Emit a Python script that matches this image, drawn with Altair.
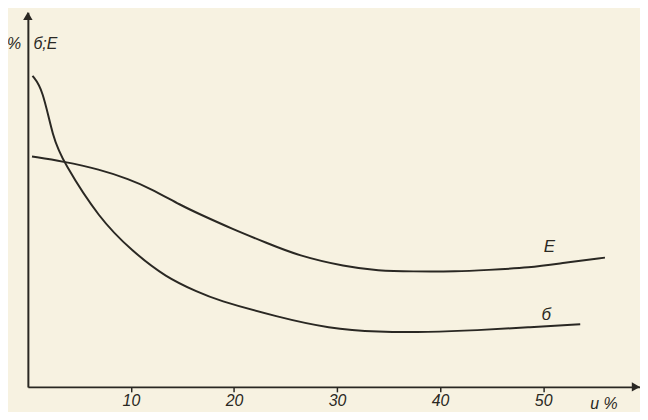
import altair as alt
import pandas as pd

# Curve "б" (strength) vs moisture u %
u_sigma = [0.45, 1.42, 2.44, 3.41, 6.95, 10.1, 13.4, 16.6, 18.2, 24.3, 29.2, 34.0, 38.8, 43.6, 48.5, 53.6]
v_sigma = [83.0, 79.7, 66.4, 60.2, 44.8, 36.3, 29.2, 25.2, 23.3, 18.6, 15.6, 14.6, 14.6, 15.1, 15.9, 16.7]

# Curve "E" (modulus) vs moisture u %
u_E = [0.4, 3.4, 6.95, 9.85, 11.8, 14.96, 16.6, 19.8, 23.1, 26.25, 30.8, 34.0, 37.2, 41.7, 44.5, 48.7, 52.0, 56.0]
v_E = [61.5, 60.2, 58.1, 55.4, 53.1, 48.3, 46.2, 42.2, 38.5, 35.0, 32.1, 31.0, 30.8, 30.8, 31.2, 31.8, 33.1, 34.5]

x_ticks = [10, 20, 30, 40, 50]

# Text annotations
curve_labels = ["E", "б"]
curve_label_u = [50.6, 50.3]
curve_label_v = [37.3, 19.3]

axis_texts = ["%", "б;E", "u %"]
axis_text_u = [-1.35, 1.7, 55.9]
axis_text_v = [91.5, 91.5, -4.6]

INK = "#2a2823"
BG = "#f7f2e1"
FONT = "Liberation Sans"

df_s = pd.DataFrame({"u": u_sigma, "v": v_sigma})
df_e = pd.DataFrame({"u": u_E, "v": v_E})

xs = alt.Scale(domain=[0, 59.4], nice=False, zero=False)
ys = alt.Scale(domain=[0, 100], nice=False, zero=False)

x_axis = alt.Axis(values=x_ticks, title=None, grid=False, domainColor=INK,
                  domainWidth=2, tickColor=INK, tickWidth=1.5, tickSize=5,
                  labelFont=FONT, labelFontStyle="italic", labelFontSize=16,
                  labelColor=INK, labelPadding=1)
y_axis = alt.Axis(title=None, labels=False, ticks=False, grid=False,
                  domainColor=INK, domainWidth=2)

line_s = alt.Chart(df_s).mark_line(interpolate="basis", color=INK, strokeWidth=2).encode(
    x=alt.X("u:Q", scale=xs, axis=x_axis),
    y=alt.Y("v:Q", scale=ys, axis=y_axis),
)
line_e = alt.Chart(df_e).mark_line(interpolate="basis", color=INK, strokeWidth=2).encode(
    x=alt.X("u:Q", scale=xs),
    y=alt.Y("v:Q", scale=ys),
)

lab_df = pd.DataFrame({"t": curve_labels, "u": curve_label_u, "v": curve_label_v})
labels = alt.Chart(lab_df).mark_text(font=FONT, fontStyle="italic", fontSize=17,
                                     color=INK, align="center", baseline="middle").encode(
    x=alt.X("u:Q", scale=xs), y=alt.Y("v:Q", scale=ys), text="t:N")

ax_df = pd.DataFrame({"t": axis_texts, "u": axis_text_u, "v": axis_text_v})
ax_labels = alt.Chart(ax_df).mark_text(font=FONT, fontStyle="italic", fontSize=16,
                                       color=INK, align="center", baseline="middle").encode(
    x=alt.X("u:Q", scale=xs), y=alt.Y("v:Q", scale=ys), text="t:N")

arrow_x = alt.Chart(pd.DataFrame({"u": [59.0], "v": [0.0]})).mark_point(
    shape="triangle-right", filled=True, color=INK, size=90, opacity=1).encode(
    x=alt.X("u:Q", scale=xs), y=alt.Y("v:Q", scale=ys))
arrow_y = alt.Chart(pd.DataFrame({"u": [0.0], "v": [99.0]})).mark_point(
    shape="triangle-up", filled=True, color=INK, size=90, opacity=1).encode(
    x=alt.X("u:Q", scale=xs), y=alt.Y("v:Q", scale=ys))

chart = alt.layer(line_s, line_e, labels, ax_labels, arrow_x, arrow_y).properties(
    width=616, height=377,
    padding={"left": 20, "top": 3, "right": 0, "bottom": 24},
    autosize=alt.AutoSizeParams(type="none"),
    background=BG,
).configure_view(stroke=None)

chart.save("out.html", embed_options={"renderer": "svg", "actions": False})
